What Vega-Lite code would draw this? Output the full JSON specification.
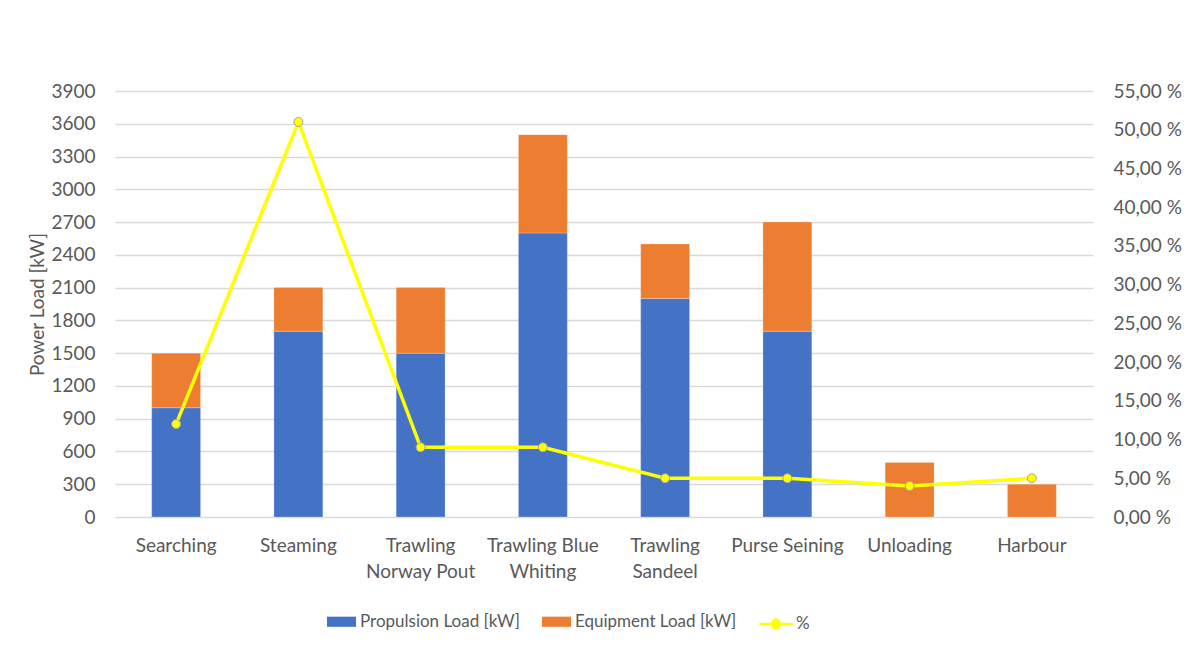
{
  "$schema": "https://vega.github.io/schema/vega-lite/v6.json",
  "width": 978,
  "height": 426,
  "autosize": {"type": "none"},
  "padding": {"left": 115, "top": 91, "right": 96, "bottom": 128},
  "background": "white",
  "config": {
    "font": "Lato",
    "view": {"stroke": null},
    "axis": {
      "labelColor": "#595959",
      "titleColor": "#595959",
      "labelFont": "Lato",
      "titleFont": "Lato",
      "labelFontSize": 19,
      "titleFontSize": 19,
      "titleFontWeight": "normal",
      "ticks": false,
      "domain": false,
      "gridColor": "#D9D9D9",
      "gridWidth": 1.3
    },
    "legend": {
      "labelColor": "#595959",
      "labelFont": "Lato",
      "labelFontSize": 17,
      "labelLimit": 400
    }
  },
  "datasets": {
    "loads": [
      {"mode": "Searching", "series": "Propulsion Load [kW]", "load": 1000},
      {"mode": "Searching", "series": "Equipment Load [kW]", "load": 500},
      {"mode": "Steaming", "series": "Propulsion Load [kW]", "load": 1700},
      {"mode": "Steaming", "series": "Equipment Load [kW]", "load": 400},
      {"mode": "Trawling Norway Pout", "series": "Propulsion Load [kW]", "load": 1500},
      {"mode": "Trawling Norway Pout", "series": "Equipment Load [kW]", "load": 600},
      {"mode": "Trawling Blue Whiting", "series": "Propulsion Load [kW]", "load": 2600},
      {"mode": "Trawling Blue Whiting", "series": "Equipment Load [kW]", "load": 900},
      {"mode": "Trawling Sandeel", "series": "Propulsion Load [kW]", "load": 2000},
      {"mode": "Trawling Sandeel", "series": "Equipment Load [kW]", "load": 500},
      {"mode": "Purse Seining", "series": "Propulsion Load [kW]", "load": 1700},
      {"mode": "Purse Seining", "series": "Equipment Load [kW]", "load": 1000},
      {"mode": "Unloading", "series": "Propulsion Load [kW]", "load": 0},
      {"mode": "Unloading", "series": "Equipment Load [kW]", "load": 500},
      {"mode": "Harbour", "series": "Propulsion Load [kW]", "load": 0},
      {"mode": "Harbour", "series": "Equipment Load [kW]", "load": 300}
    ],
    "share": [
      {"mode": "Searching", "series": "%", "pct": 12},
      {"mode": "Steaming", "series": "%", "pct": 51},
      {"mode": "Trawling Norway Pout", "series": "%", "pct": 9},
      {"mode": "Trawling Blue Whiting", "series": "%", "pct": 9},
      {"mode": "Trawling Sandeel", "series": "%", "pct": 5},
      {"mode": "Purse Seining", "series": "%", "pct": 5},
      {"mode": "Unloading", "series": "%", "pct": 4},
      {"mode": "Harbour", "series": "%", "pct": 5}
    ]
  },
  "encoding": {
    "x": {
      "field": "mode",
      "type": "nominal",
      "sort": null,
      "scale": {"paddingInner": 0.6, "paddingOuter": 0.3},
      "axis": {
        "title": null,
        "labelAngle": 0,
        "labelPadding": 19,
        "labelLineHeight": 26,
        "labelBaseline": "top",
        "labelExpr": "datum.value == 'Trawling Norway Pout' ? ['Trawling', 'Norway Pout'] : datum.value == 'Trawling Blue Whiting' ? ['Trawling Blue', 'Whiting'] : datum.value == 'Trawling Sandeel' ? ['Trawling', 'Sandeel'] : datum.value"
      }
    }
  },
  "layer": [
    {
      "data": {"name": "loads"},
      "mark": {"type": "bar", "stroke": "white", "strokeOpacity": 0.4, "strokeWidth": 0.6},
      "encoding": {
        "y": {
          "field": "load",
          "type": "quantitative",
          "stack": "zero",
          "scale": {"domain": [0, 3900], "nice": false},
          "axis": {
            "title": "Power Load [kW]",
            "format": "d",
            "values": [0, 300, 600, 900, 1200, 1500, 1800, 2100, 2400, 2700, 3000, 3300, 3600, 3900],
            "labelPadding": 20,
            "titlePadding": 3,
            "grid": true
          }
        },
        "order": {"field": "series", "sort": "descending"},
        "color": {
          "field": "series",
          "type": "nominal",
          "scale": {
            "domain": ["Propulsion Load [kW]", "Equipment Load [kW]"],
            "range": ["#4472C4", "#ED7D31"]
          },
          "legend": {
            "title": null,
            "orient": "none",
            "direction": "horizontal",
            "legendX": 212,
            "legendY": 516,
            "symbolSize": 841,
            "symbolType": "M-1,-0.35H1V0.35H-1Z",
            "symbolStrokeWidth": 0,
            "labelOffset": 4,
            "columnPadding": 22
          }
        }
      }
    },
    {
      "data": {"name": "share"},
      "mark": {"type": "line", "color": "#FFFF00", "strokeWidth": 3.5},
      "encoding": {
        "y": {
          "field": "pct",
          "type": "quantitative",
          "scale": {"domain": [0, 55], "nice": false},
          "axis": {
            "orient": "right",
            "title": null,
            "grid": false,
            "values": [0, 5, 10, 15, 20, 25, 30, 35, 40, 45, 50, 55],
            "labelPadding": 20,
            "labelExpr": "replace(format(datum.value, '.2f'), '.', ',') + ' %'"
          }
        }
      }
    },
    {
      "data": {"name": "share"},
      "mark": {"type": "point", "filled": true, "stroke": "#A5A5A5", "strokeWidth": 1, "size": 80, "opacity": 1},
      "encoding": {
        "y": {"field": "pct", "type": "quantitative", "scale": {"domain": [0, 55], "nice": false}, "axis": null},
        "fill": {
          "field": "series",
          "type": "nominal",
          "scale": {"domain": ["%"], "range": ["#FFFF00"]},
          "legend": {
            "title": null,
            "orient": "none",
            "direction": "horizontal",
            "legendX": 644,
            "legendY": 516,
            "symbolSize": 1089,
            "symbolType": "M-1,-0.055H-0.27A0.27,0.27 0 0,1 0.27,-0.055H1V0.055H0.27A0.27,0.27 0 0,1 -0.27,0.055H-1Z",
            "symbolFillColor": "#FFFF00",
            "symbolStrokeColor": "#FFFF00",
            "symbolStrokeWidth": 0.5,
            "labelOffset": 3
          }
        }
      }
    }
  ],
  "resolve": {"scale": {"y": "independent", "fill": "independent", "color": "independent"}}
}
